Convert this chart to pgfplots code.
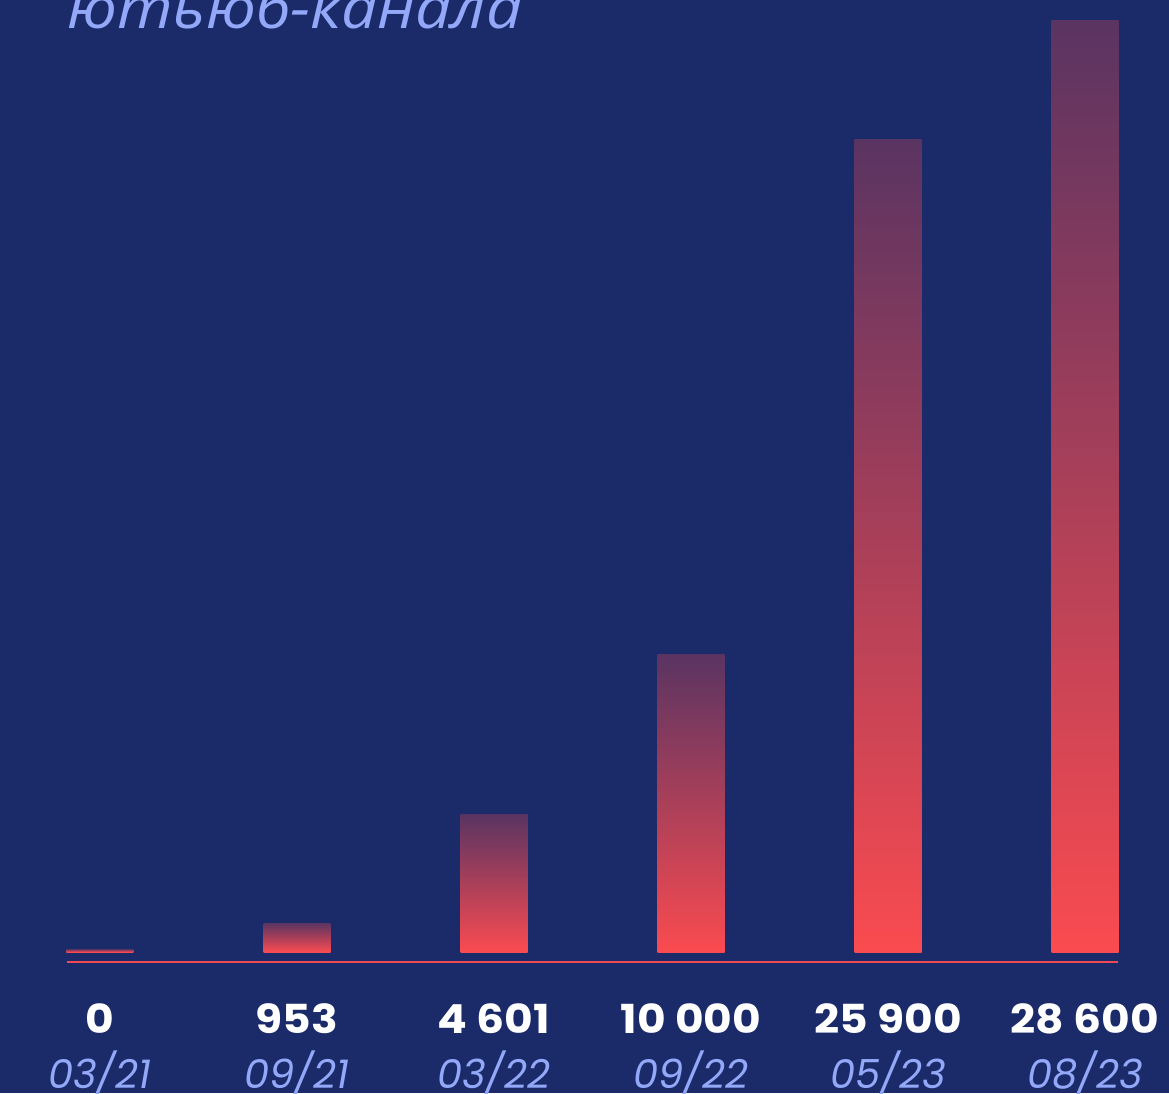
\documentclass[border=0pt]{standalone}
\usepackage{pgfplots}
\pgfplotsset{compat=1.18}
\usepackage{fontspec}
\setmainfont{Poppins}
\newfontfamily\numfont{Poppins}[FakeStretch=1.1]
\newfontfamily\titlefont{Open Sans}[FakeStretch=1.1]
\definecolor{bg}{RGB}{27,43,105}
\definecolor{bartop}{RGB}{90,52,98}
\definecolor{barbot}{RGB}{250,75,80}
\definecolor{datecol}{RGB}{147,168,248}
\definecolor{linecol}{RGB}{240,75,85}

\pgfplotsset{gradbar/.style={ybar, bar width=67pt, bar shift=0pt, draw=none,
    top color=bartop, bottom color=barbot}}

\begin{document}
\begin{tikzpicture}
\clip (0,0) rectangle (1169pt,1093pt);
\fill[bg] (0,0) rectangle (1169pt,1093pt);
\node[anchor=base west, inner sep=0, text=datecol,
      font=\titlefont\itshape\fontsize{58}{70}\selectfont] at (67pt,1064pt) {ютьюб-канала};
\begin{axis}[
    at={(66.5pt,141pt)}, anchor=south west,
    scale only axis,
    width=1052pt, height=931pt,
    xmin=-0.17, xmax=5.17,
    ymin=0, ymax=28600,
    axis line style={draw=none},
    xtick={0,1,2,3,4,5},
    xtick style={draw=none},
    ytick=\empty,
    xticklabels={
        {{\numfont\bfseries 0}\\\textcolor{datecol}{\itshape 03/21}},
        {{\numfont\bfseries 953}\\\textcolor{datecol}{\itshape 09/21}},
        {{\numfont\bfseries 4 601}\\\textcolor{datecol}{\itshape 03/22}},
        {{\numfont\bfseries 10 000}\\\textcolor{datecol}{\itshape 09/22}},
        {{\numfont\bfseries 25 900}\\\textcolor{datecol}{\itshape 05/23}},
        {{\numfont\bfseries 28 600}\\\textcolor{datecol}{\itshape 08/23}}},
    xticklabel style={align=center, text=white, inner sep=0, anchor=north,
        yshift=-51pt, font=\fontsize{40}{55}\selectfont},
    clip=false,
]
\addplot[gradbar] coordinates {(0,92)};
\addplot[gradbar] coordinates {(1,891)};
\addplot[gradbar] coordinates {(2,4209)};
\addplot[gradbar] coordinates {(3,9124)};
\addplot[gradbar] coordinates {(4,24945)};
\addplot[gradbar] coordinates {(5,28600)};
\end{axis}
\draw[linecol, line width=2pt] (66.5pt,131pt) -- (1117.5pt,131pt);
\end{tikzpicture}
\end{document}
